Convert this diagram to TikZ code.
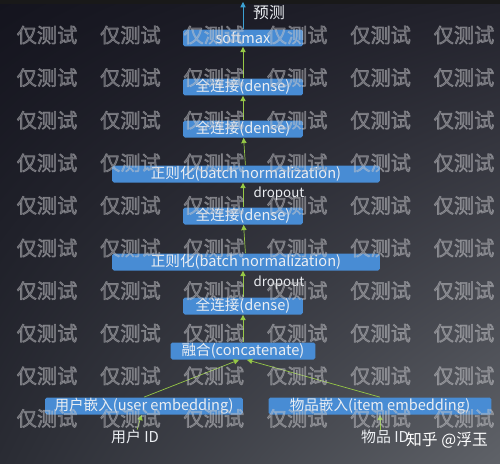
\documentclass[tikz,border=0pt]{standalone}
\usepackage{fontspec}
\setmainfont{Noto Sans CJK SC}
\newfontfamily\wmfont{Noto Sans CJK SC}[FakeBold=3]
\usetikzlibrary{arrows.meta, shadings}

\definecolor{boxblue}{RGB}{72,140,212}
\definecolor{arrgreen}{RGB}{150,200,70}
\definecolor{arrcyan}{RGB}{60,160,210}
\definecolor{txtgrey}{RGB}{235,238,242}
\definecolor{wmgrey}{RGB}{200,200,204}
\definecolor{bgul}{RGB}{20,20,30}
\definecolor{bgur}{RGB}{34,34,44}
\definecolor{bgll}{RGB}{42,44,52}
\definecolor{bglr}{RGB}{95,98,104}

\begin{document}
\begin{tikzpicture}[x=0.02cm, y=-0.02cm,
  layerbox/.style={rectangle, rounded corners=1pt, fill=boxblue, text=txtgrey,
    minimum height=0.34cm, inner sep=0pt, font=\fontsize{8.3}{9}\selectfont},
  plainlabel/.style={text=txtgrey, inner sep=0pt, font=\fontsize{7.6}{9}\selectfont},
  flow/.style={draw=arrgreen, thin, -{Triangle[length=3pt, width=3pt]}},
]

% background
\shade[upper left=bgul, upper right=bgur, lower left=bgll, lower right=bglr]
  (0,0) rectangle (500,463);
\fill[black!90] (0,0) rectangle (500,4);
\useasboundingbox (0,0) rectangle (500,463);

\node[layerbox, minimum width=2.4cm] (softmax) at (243,38) {softmax};
\node[layerbox, minimum width=2.4cm] (dense1) at (243,87) {全连接(dense)};
\node[layerbox, minimum width=2.4cm] (dense2) at (243,129) {全连接(dense)};
\node[layerbox, minimum width=5.36cm] (bn1) at (246,174) {正则化(batch normalization)};
\node[layerbox, minimum width=2.4cm] (dense3) at (243,216) {全连接(dense)};
\node[layerbox, minimum width=5.36cm] (bn2) at (246,262) {正则化(batch normalization)};
\node[layerbox, minimum width=2.4cm] (dense4) at (243,306) {全连接(dense)};
\node[layerbox, minimum width=2.9cm] (concat) at (243,351) {融合(concatenate)};
\node[layerbox, minimum width=3.96cm] (useremb) at (144,406) {用户嵌入(user embedding)};
\node[layerbox, minimum width=4.46cm] (itememb) at (380,406) {物品嵌入(item embedding)};

\node[plainlabel, font=\fontsize{9}{10}\selectfont] (pred) at (269,13) {预测};
\node[plainlabel] (drop1) at (279,194) {dropout};
\node[plainlabel] (drop2) at (279,283) {dropout};
\node[plainlabel, font=\fontsize{8.5}{10}\selectfont] (userid) at (135,437) {用户 ID};
\node[plainlabel, font=\fontsize{8.5}{10}\selectfont] (itemid) at (385,437) {物品 ID};
\node[plainlabel, font=\fontsize{9}{10}\selectfont, text=white] (sign) at (447,440) {知乎 @浮玉};
\coordinate (top) at (243,2);

\draw[flow, draw=arrcyan] (softmax) -- (top);
\draw[flow] (dense1) -- (softmax);
\draw[flow] (dense2) -- (dense1);
\draw[flow] (bn1) -- (dense2);
\draw[flow] (dense3.north) -- (bn1.south -| dense3.north);
\draw[flow] (bn2) -- (dense3);
\draw[flow] (dense4.north) -- (bn2.south -| dense4.north);
\draw[flow] (concat) -- (dense4);
\draw[flow] (useremb.north) -- ([xshift=-0.08cm]concat.south);
\draw[flow] (itememb.north) -- ([xshift=0.08cm]concat.south);
\draw[flow] (userid) -- (useremb);
\draw[flow] (itemid.north -| itememb.south) -- (itememb);

% watermark
\foreach \i in {0,...,5}
  \foreach \j in {0,...,9}
    \node[text=wmgrey, opacity=0.4, inner sep=0pt, font=\wmfont\fontsize{11.5}{12}\selectfont]
      (wm\i\j) at (47+83.4*\i, 35+42.6*\j) {仅测试};

\end{tikzpicture}
\end{document}
